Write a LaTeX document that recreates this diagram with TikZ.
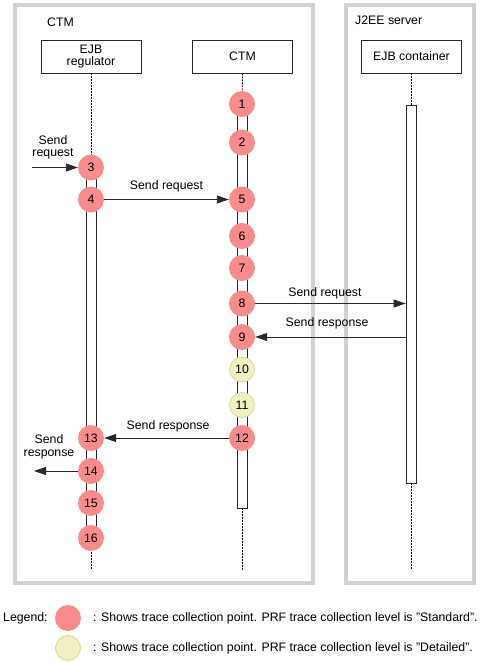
\documentclass[tikz,border=0pt]{standalone}
\usepackage{fontspec}
\setmainfont{Liberation Sans}
\usetikzlibrary{arrows.meta,calc}
\definecolor{frameg}{RGB}{210,210,210}
\definecolor{ptred}{RGB}{248,140,140}
\definecolor{ptyel}{RGB}{240,240,192}
\definecolor{ptyeld}{RGB}{218,218,160}
\definecolor{linec}{RGB}{40,40,40}
\newcommand{\myfs}{\fontsize{12.3}{13.5}\selectfont}
\tikzset{
  frame/.style={draw=frameg, line width=4pt},
  hbox/.style={draw=linec, line width=0.9pt, minimum width=100pt, minimum height=33pt, inner sep=0pt, align=center, font=\myfs},
  life/.style={draw=black, line width=0.9pt, dash pattern=on 2pt off 1pt},
  bar/.style={draw=linec, fill=white, line width=0.9pt, minimum width=10pt, inner sep=0pt},
  ptr/.style={circle, fill=ptred, minimum size=26pt, inner sep=0pt, font=\myfs},
  pty/.style={circle, fill=ptyel, draw=ptyeld, line width=0.8pt, minimum size=25pt, inner sep=0pt, font=\myfs},
  msg/.style={draw=linec, line width=0.9pt, -{Triangle[length=12pt,width=8pt]}},
  lbl/.style={font=\myfs, inner sep=0pt, align=center},
}
\begin{document}
\begin{tikzpicture}[x=1pt,y=-1pt]
\useasboundingbox (0,0) rectangle (484,663);
% frames
\draw[frame] (15,5) rectangle (313,583);
\draw[frame] (346,5) rectangle (474,583);
\node[lbl, anchor=west] (tctm) at (47,22) {CTM};
\node[lbl, anchor=west] (tj2ee) at (355,20) {J2EE server};
% header boxes
\node[hbox] (reg) at (91,56.5) {EJB\\[-1pt]regulator};
\node[hbox] (ctm) at (242.5,56.5) {CTM};
\node[hbox] (cont) at (411.5,56.5) {EJB container};
% lifeline end points
\coordinate (regend) at (91,570);
\coordinate (ctmend) at (242,570);
\coordinate (contend) at (411,569);
% bars
\node[bar, minimum height=373pt] (rbar) at (91,353.5) {};
\node[bar, minimum height=404pt] (cbar) at (242,306) {};
\node[bar, minimum height=378pt] (kbar) at (411,294) {};
% dashed lifelines
\draw[life] (reg.south) -- (rbar.north);
\draw[life] (rbar.south) -- (regend);
\draw[life] (ctm.south) -- (cbar.north);
\draw[life] (cbar.south) -- (ctmend);
\draw[life] (cont.south -| kbar.north) -- (kbar.north);
\draw[life] (kbar.south) -- (contend);
% points
\node[ptr] (p1) at (242,104) {1};
\node[ptr] (p2) at (242,142.5) {2};
\node[ptr] (p3) at (91,167.5) {3};
\node[ptr] (p4) at (91,199.5) {4};
\node[ptr] (p5) at (242,199.5) {5};
\node[ptr] (p6) at (242,236) {6};
\node[ptr] (p7) at (242,268) {7};
\node[ptr] (p8) at (242,303.5) {8};
\node[ptr] (p9) at (242,337) {9};
\node[pty] (p10) at (242,369.5) {10};
\node[pty] (p11) at (242,405) {11};
\node[ptr] (p12) at (242,438) {12};
\node[ptr] (p13) at (91,438) {13};
\node[ptr] (p14) at (91,471) {14};
\node[ptr] (p15) at (91,503) {15};
\node[ptr] (p16) at (91,538) {16};
% messages
\coordinate (inreq) at (32,167.5);
\coordinate (outresp) at (34,471);
\draw[msg] (inreq) -- (p3.west);
\node[lbl] (linreq) at (53,147.5) {Send\\[-1pt]request};
\draw[msg] (p4.east) -- (p5.west);
\node[lbl] (l45) at (166.5,186.5) {Send request};
\draw[msg] (p8.east) -- (p8.east -| kbar.west);
\node[lbl] (l8) at (325,293) {Send request};
\draw[msg] (p9.east -| kbar.west) -- (p9.east);
\node[lbl] (l9) at (327,323.5) {Send response};
\draw[msg] (p12.west) -- (p13.east);
\node[lbl] (l1213) at (168,426) {Send response};
\draw[msg] (p14.west) -- (outresp);
\node[lbl] (lout) at (49,447) {Send\\[-1pt]response};
% legend
\node[lbl, anchor=west] (leg) at (3,618) {Legend:};
\node[ptr] (lr) at (68,618) {};
\node[pty] (ly) at (68,648) {};
\node[lbl, anchor=west] (lrt) at (93,618) {: Shows trace collection point. PRF trace collection level is "Standard".};
\node[lbl, anchor=west] (lyt) at (93,648) {: Shows trace collection point. PRF trace collection level is "Detailed".};
\end{tikzpicture}
\end{document}
